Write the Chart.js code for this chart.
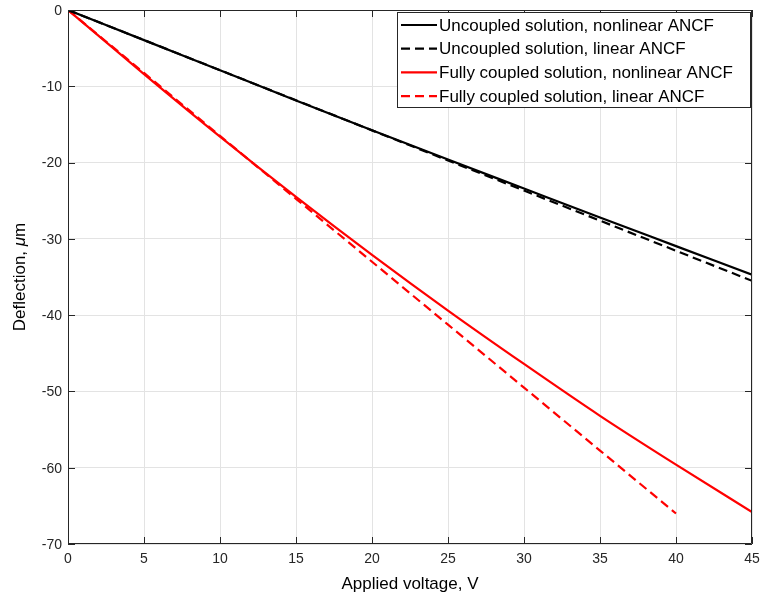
<!DOCTYPE html>
<html><head><meta charset="utf-8">
<script src="https://cdn.jsdelivr.net/npm/chart.js@4/dist/chart.umd.min.js"></script>
<style>html,body{margin:0;padding:0;background:#fff}#wrap{width:763px;height:602px}</style>
</head><body><div id="wrap"><canvas id="c" width="763" height="602"></canvas></div>
<script>
const voltage = [0, 5, 10, 15, 20, 25, 30, 35, 40, 45];
const uncoupledNonlinear = [0, -3.95, -7.9, -11.85, -15.75, -19.6, -23.4, -27.2, -30.95, -34.7];
const uncoupledLinear = [0, -3.94, -7.89, -11.83, -15.78, -19.72, -23.67, -27.61, -31.56, -35.5];
const coupledNonlinear = [0, -8.4, -16.6, -24.5, -32.1, -39.4, -46.4, -53.2, -59.6, -65.8];
const coupledLinear = [0, -8.25, -16.5, -24.75, -33.0, -41.25, -49.5, -57.75, -66.0, null];
const seriesLabels = ["Uncoupled solution, nonlinear ANCF","Uncoupled solution, linear ANCF","Fully coupled solution, nonlinear ANCF","Fully coupled solution, linear ANCF"];
const xTicks = [0,5,10,15,20,25,30,35,40,45];
const yTicks = [-70,-60,-50,-40,-30,-20,-10,0];

const FONT = '"Liberation Sans", Arial, Helvetica, sans-serif';
function pts(arr){return voltage.map((v,i)=>arr[i]===null?null:{x:v,y:arr[i]}).filter(p=>p);}

const mkDs=(label,data,color,dash,curved)=>({label,data:pts(data),borderColor:color,backgroundColor:color,borderWidth:2.2,borderDash:dash,pointRadius:0,tension:0,cubicInterpolationMode:curved?'monotone':'default',fill:false});

const customDraw={
  id:'customDraw',
  afterDraw(chart){
    const ctx=chart.ctx, a=chart.chartArea, xs=chart.scales.x, ys=chart.scales.y;
    ctx.save();
    ctx.strokeStyle='#262626'; ctx.lineWidth=1;
    ctx.beginPath();
    ctx.moveTo(a.left+0.5,a.top+0.5);ctx.lineTo(a.right-0.5,a.top+0.5);ctx.lineTo(a.right-0.5,a.bottom-0.5);ctx.lineTo(a.left+0.5,a.bottom-0.5);ctx.closePath();ctx.stroke();
    ctx.beginPath();
    xTicks.forEach(t=>{const x=Math.round(xs.getPixelForValue(t))+0.5;ctx.moveTo(x,a.bottom);ctx.lineTo(x,a.bottom-7);ctx.moveTo(x,a.top);ctx.lineTo(x,a.top+7);});
    yTicks.forEach(t=>{const y=Math.round(ys.getPixelForValue(t))+0.5;ctx.moveTo(a.left,y);ctx.lineTo(a.left+7,y);ctx.moveTo(a.right,y);ctx.lineTo(a.right-7,y);});
    ctx.stroke();
    // tick labels
    ctx.fillStyle='#262626'; ctx.font='14px '+FONT;
    ctx.textAlign='center'; ctx.textBaseline='middle';
    xTicks.forEach(t=>ctx.fillText(String(t),xs.getPixelForValue(t),a.bottom+15));
    ctx.textAlign='right';
    yTicks.forEach(t=>ctx.fillText(String(t),a.left-6,ys.getPixelForValue(t)+1));
    // axis titles
    ctx.fillStyle='#000';
    ctx.font='17px '+FONT; ctx.textAlign='center'; ctx.textBaseline='middle';
    ctx.fillText('Applied voltage, V',(a.left+a.right)/2,584);
    ctx.save();ctx.translate(20,(a.top+a.bottom)/2);ctx.rotate(-Math.PI/2);
    const p1='Deflection, ', p2='\u03bc', p3='m';
    ctx.font='17px '+FONT; const w1=ctx.measureText(p1).width, w3=ctx.measureText(p3).width;
    ctx.font='italic 17px '+FONT; const w2=ctx.measureText(p2).width;
    let x0=-(w1+w2+w3)/2; ctx.textAlign='left';
    ctx.font='17px '+FONT; ctx.fillText(p1,x0,0);
    ctx.font='italic 17px '+FONT; ctx.fillText(p2,x0+w1,0);
    ctx.font='17px '+FONT; ctx.fillText(p3,x0+w1+w2,0);
    ctx.restore();
    // legend
    const lx=397, ly=12, lw=a.right-2-lx, lh=95;
    ctx.fillStyle='#fff'; ctx.fillRect(lx,ly,lw,lh);
    ctx.strokeStyle='#262626'; ctx.lineWidth=1; ctx.strokeRect(lx+0.5,ly+0.5,lw,lh);
    ctx.font='17px '+FONT; ctx.textAlign='left'; ctx.textBaseline='middle';
    chart.data.datasets.forEach((ds,i)=>{
      const yy=ly+13+i*23.7;
      ctx.strokeStyle=ds.borderColor; ctx.lineWidth=2.2; ctx.setLineDash(ds.borderDash||[]);
      ctx.beginPath();ctx.moveTo(lx+4,yy);ctx.lineTo(lx+40,yy);ctx.stroke();
      ctx.setLineDash([]);
      ctx.fillStyle='#000'; ctx.fillText(ds.label,lx+42,yy+1);
    });
    ctx.restore();
  }
};

new Chart(document.getElementById('c'),{
  type:'line',
  data:{datasets:[
    mkDs(seriesLabels[0],uncoupledNonlinear,'#000000',[],true),
    mkDs(seriesLabels[1],uncoupledLinear,'#000000',[9,5],false),
    mkDs(seriesLabels[2],coupledNonlinear,'#ff0000',[],true),
    mkDs(seriesLabels[3],coupledLinear,'#ff0000',[9,5],false)
  ]},
  options:{
    responsive:false,animation:false,
    layout:{padding:{left:0,right:11,top:10,bottom:0}},
    plugins:{legend:{display:false},tooltip:{enabled:false}},
    scales:{
      x:{type:'linear',min:0,max:45,
        afterBuildTicks(s){s.ticks=xTicks.map(v=>({value:v}));},
        afterFit(s){s.height=58;s.paddingLeft=0;s.paddingRight=0;},
        grid:{color:'#e3e3e3',drawTicks:false,lineWidth:1},border:{display:false},
        ticks:{display:false}},
      y:{type:'linear',min:-70,max:0,
        afterBuildTicks(s){s.ticks=yTicks.map(v=>({value:v}));},
        afterFit(s){s.width=68;s.paddingTop=0;s.paddingBottom=0;},
        grid:{color:'#e3e3e3',drawTicks:false,lineWidth:1},border:{display:false},
        ticks:{display:false}}
    }
  },
  plugins:[customDraw]
});
</script></body></html>
